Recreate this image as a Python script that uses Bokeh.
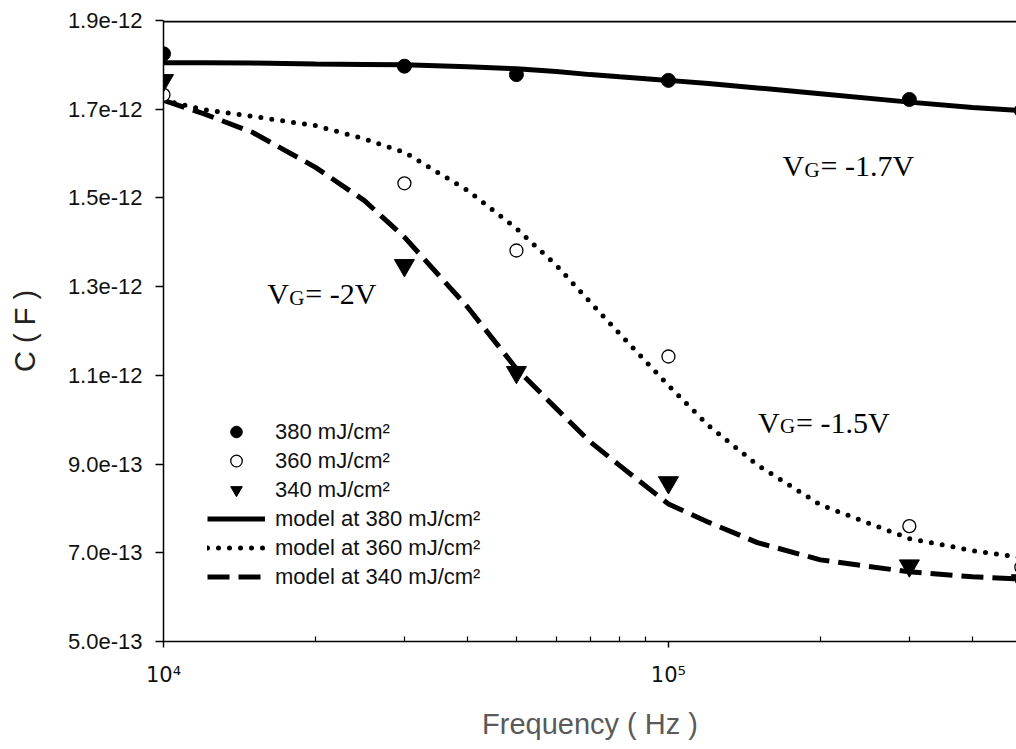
from bokeh.plotting import figure
from bokeh.models import (FixedTicker, CustomJSTickFormatter, Legend, LegendItem,
                          ColumnDataSource, Range1d)
from bokeh.core.properties import value
from bokeh.embed import file_html
from bokeh.resources import INLINE

# ---- data ----
freq_meas = [1e4, 3e4, 5e4, 1e5, 3e5, 5e5]
c_380 = [1.825e-12, 1.797e-12, 1.778e-12, 1.765e-12, 1.722e-12, 1.697e-12]
c_360 = [1.7325e-12, 1.533e-12, 1.3815e-12, 1.1425e-12, 0.760e-12, 0.6675e-12]
c_340 = [1.765e-12, 1.348e-12, 1.107e-12, 0.8585e-12, 0.671e-12, 0.6375e-12]

freq_model = [1e4, 1.2e4, 1.5e4, 2e4, 2.5e4, 3e4, 4e4, 5e4, 6e4, 7e4, 8e4,
              1e5, 1.2e5, 1.5e5, 2e5, 3e5, 4e5, 5e5]
model_380 = [1.805e-12, 1.805e-12, 1.804e-12, 1.802e-12, 1.801e-12, 1.800e-12,
             1.796e-12, 1.791e-12, 1.785e-12, 1.778e-12, 1.773e-12, 1.765e-12,
             1.758e-12, 1.748e-12, 1.735e-12, 1.716e-12, 1.704e-12, 1.697e-12]
model_360 = [1.720e-12, 1.699e-12, 1.684e-12, 1.663e-12, 1.633e-12, 1.603e-12,
             1.517e-12, 1.431e-12, 1.348e-12, 1.265e-12, 1.194e-12, 1.077e-12,
             0.987e-12, 0.898e-12, 0.808e-12, 0.732e-12, 0.705e-12, 0.689e-12]
model_340 = [1.720e-12, 1.690e-12, 1.648e-12, 1.569e-12, 1.494e-12, 1.4115e-12,
             1.254e-12, 1.115e-12, 1.025e-12, 0.950e-12, 0.897e-12, 0.810e-12,
             0.769e-12, 0.723e-12, 0.684e-12, 0.657e-12, 0.646e-12, 0.641e-12]

y_ticks = [5e-13, 7e-13, 9e-13, 1.1e-12, 1.3e-12, 1.5e-12, 1.7e-12, 1.9e-12]
x_major = [1e4, 1e5]
x_minor = [2e4, 3e4, 4e4, 5e4, 6e4, 7e4, 8e4, 9e4, 2e5, 3e5, 4e5]

legend_labels = ["380 mJ/cm\u00b2", "360 mJ/cm\u00b2", "340 mJ/cm\u00b2",
                 "model at 380 mJ/cm\u00b2", "model at 360 mJ/cm\u00b2",
                 "model at 340 mJ/cm\u00b2"]

ann_x = [1.682e5, 1.505e5, 1.605e4]
ann_y = [1.573e-12, 0.9944e-12, 1.2839e-12]
ann_main = ["V", "V", "V"]
ann_sub = ["G", "G", "G"]
ann_rest = ["= -1.7V", "= -1.5V", "= -2V"]

SANS = "Liberation Sans"
SERIF = "Liberation Serif"

Y_MIN, Y_MAX = y_ticks[0], y_ticks[-1]

p = figure(width=1016, height=749, x_axis_type="log",
           x_range=Range1d(1e4, 4.89e5), y_range=Range1d(Y_MIN, Y_MAX),
           output_backend="svg", toolbar_location=None,
           min_border_left=163, min_border_right=0, min_border_top=20,
           min_border_bottom=108)
p.grid.visible = False
p.outline_line_color = None
p.background_fill_color = "white"
p.border_fill_color = "white"

xax = p.below[0]
yax = p.left[0]

# top border line as a horizontal-span glyph just inside the frame top
p.hspan(y=[Y_MAX - 0.002 * (Y_MAX - Y_MIN)], line_color="black", line_width=2)

# y axis
yax.ticker = FixedTicker(ticks=y_ticks)
yax.formatter = CustomJSTickFormatter(code="return tick.toExponential(1);")
yax.major_tick_out = 8
yax.major_tick_in = 0
yax.minor_tick_in = 0
yax.minor_tick_out = 0
yax.major_tick_line_width = 1.5
yax.axis_line_width = 1.5
yax.major_label_standoff = 13
yax.major_label_text_font = SANS
yax.major_label_text_font_size = "22px"
yax.major_label_text_color = "#111111"
yax.axis_label = "C ( F )"
yax.axis_label_text_font = SANS
yax.axis_label_text_font_size = "29px"
yax.axis_label_text_font_style = "normal"
yax.axis_label_text_color = "#222222"
yax.axis_label_standoff = 24

# x axis
xax.ticker = FixedTicker(ticks=x_major, minor_ticks=x_minor)
xax.formatter = CustomJSTickFormatter(code="""
const sup = {"0":"\u2070","1":"\u00b9","2":"\u00b2","3":"\u00b3","4":"\u2074","5":"\u2075","6":"\u2076","7":"\u2077","8":"\u2078","9":"\u2079"};
const e = String(Math.round(Math.log10(tick)));
let s = "";
for (const ch of e) { s += (sup[ch] || ch); }
return "10" + s;
""")
xax.major_tick_out = 6
xax.major_tick_in = 0
xax.minor_tick_in = 5
xax.minor_tick_out = 0
xax.major_tick_line_width = 1.5
xax.minor_tick_line_width = 1.2
xax.axis_line_width = 1.5
xax.major_label_standoff = 15
xax.major_label_text_font = "DejaVu Sans"
xax.major_label_text_font_size = "21px"
xax.major_label_text_color = "#111111"
xax.axis_label = "Frequency ( Hz )"
xax.axis_label_text_font = SANS
xax.axis_label_text_font_size = "29px"
xax.axis_label_text_font_style = "normal"
xax.axis_label_text_color = "#5a5a5a"
xax.axis_label_standoff = 18

# model curves
src_m = ColumnDataSource(dict(f=freq_model, a=model_380, b=model_360, c=model_340))
r_m380 = p.line("f", "a", source=src_m, line_color="black", line_width=5)
r_m360 = p.line("f", "b", source=src_m, line_color="black", line_width=5,
                line_dash="0 11", line_cap="round")
r_m340 = p.line("f", "c", source=src_m, line_color="black", line_width=5,
                line_dash="22 9")

# measured points
src_d = ColumnDataSource(dict(f=freq_meas, a=c_380, b=c_360, c=c_340))
r_380 = p.scatter("f", "a", source=src_d, marker="circle", size=14,
                  fill_color="black", line_color="black")
r_360 = p.scatter("f", "b", source=src_d, marker="circle", size=13,
                  fill_color="white", line_color="black", line_width=1.3)
r_340 = p.scatter("f", "c", source=src_d, marker="inverted_triangle", size=20,
                  fill_color="black", line_color="black")

# annotations V_G
src_a = ColumnDataSource(dict(x=ann_x, y=ann_y, m=ann_main, s=ann_sub, r=ann_rest))
p.text("x", "y", text="m", source=src_a, text_font=value(SERIF),
       text_font_size="30px", text_color="black", text_baseline="alphabetic",
       text_align="left")
p.text("x", "y", text="s", source=src_a, text_font=value(SERIF),
       text_font_size="21px", text_color="black", text_baseline="alphabetic",
       text_align="left", x_offset=22, y_offset=4)
p.text("x", "y", text="r", source=src_a, text_font=value(SERIF),
       text_font_size="30px", text_color="black", text_baseline="alphabetic",
       text_align="left", x_offset=38)

# legend
renderers = [r_380, r_360, r_340, r_m380, r_m360, r_m340]
legend = Legend(items=[LegendItem(label=l, renderers=[r]) for l, r in zip(legend_labels, renderers)],
                location=(44, 50), orientation="vertical")
legend.border_line_color = None
legend.background_fill_alpha = 0
legend.padding = 0
legend.margin = 0
legend.spacing = 0
legend.glyph_width = 58
legend.glyph_height = 29
legend.label_height = 29
legend.label_standoff = 10
legend.label_text_font = SANS
legend.label_text_font_size = "22px"
legend.label_text_color = "#111111"
p.add_layout(legend)

with open("out.html", "w", encoding="utf-8") as fh:
    fh.write(file_html(p, INLINE))
